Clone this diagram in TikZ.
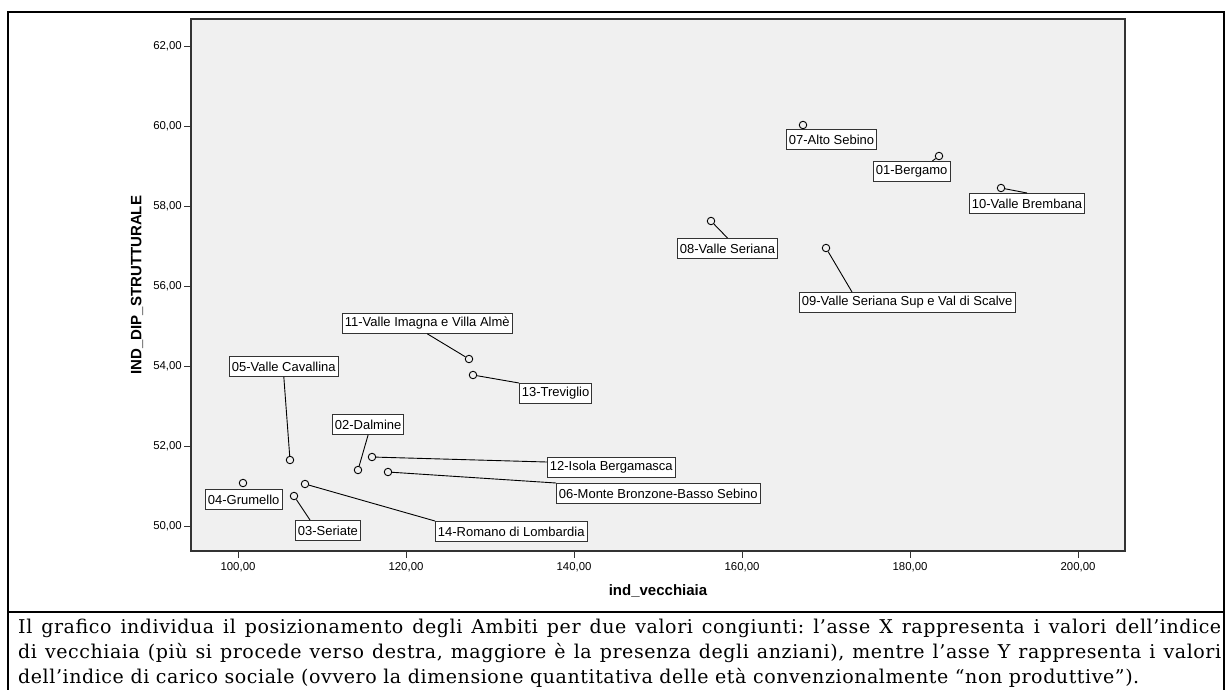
\documentclass[tikz,border=0pt]{standalone}
\usepackage{fontspec}
\setmainfont{Liberation Sans}
\newfontfamily\notefont[LetterSpace=3]{DejaVu Serif}
\definecolor{plotgray}{HTML}{F0F0F0}
\definecolor{axisgray}{HTML}{333333}

\begin{document}
\begin{tikzpicture}[x=1pt,y=-1pt]
\useasboundingbox (0,0) rectangle (1225,689);
\fill[white] (0,0) rectangle (1225,689);

\draw[line width=2pt] (8,695) -- (8,12) -- (1224,12) -- (1224,695);
\draw[line width=2pt] (8,612) -- (1224,612);

\filldraw[fill=plotgray,draw=axisgray,line width=1.3pt] (191,19) rectangle (1125,551);

\begin{scope}[every node/.style={font=\fontsize{11.4}{13}\selectfont,inner sep=1pt}]
\foreach \v [count=\i from 0] in {62,60,...,50} {
    \draw[axisgray,line width=1pt] (184,46+\i*80) -- (191,46+\i*80);
    \node[anchor=east] (ytick\v) at (183,46+\i*80) {\v,00};
}
\foreach \v [count=\i from 0] in {100,120,...,200} {
    \draw[axisgray,line width=1pt] (238+\i*168,551) -- (238+\i*168,558);
    \node (xtick\v) at (238+\i*168,567) {\v,00};
}
\end{scope}

\node[font=\fontsize{15}{17}\selectfont\bfseries] (xtitle) at (658,591) {ind\_vecchiaia};
\node[font=\fontsize{15}{17}\selectfont\bfseries,rotate=90] (ytitle) at (137,285) {IND\_DIP\_STRUTTURALE};

\begin{scope}[every node/.style={circle,draw,inner sep=0pt,minimum size=7.5pt,line width=0.9pt}]
    \node (c01) at (939,156) {};
    \node (c02) at (358,470) {};
    \node (c03) at (294,496) {};
    \node (c04) at (243,483) {};
    \node (c05) at (290,460) {};
    \node (c06) at (388,472) {};
    \node (c07) at (803,125) {};
    \node (c08) at (711,221) {};
    \node (c09) at (826,248) {};
    \node (c10) at (1001,188) {};
    \node (c11) at (469,359) {};
    \node (c12) at (372,457) {};
    \node (c13) at (473,375) {};
    \node (c14) at (305,484) {};
\end{scope}

\begin{scope}[every node/.style={draw=axisgray,fill=white,anchor=north west,line width=0.8pt,
              inner xsep=2.5pt,inner ysep=0pt,minimum height=20pt,font=\fontsize{13}{15}\selectfont}]
    \node (l01) at (873,161) {01-Bergamo};
    \node (l02) at (332,414) {02-Dalmine};
    \node (l03) at (295,520) {03-Seriate};
    \node (l04) at (205,489) {04-Grumello};
    \node (l05) at (229,356) {05-Valle Cavallina};
    \node (l06) at (556,483) {06-Monte Bronzone-Basso Sebino};
    \node (l07) at (786,129) {07-Alto Sebino};
    \node (l08) at (677,238) {08-Valle Seriana};
    \node (l09) at (799,292) {09-Valle Seriana Sup e Val di Scalve};
    \node (l10) at (969,193) {10-Valle Brembana};
    \node (l11) at (342,313) {11-Valle Imagna e Villa Almè};
    \node (l12) at (547,457) {12-Isola Bergamasca};
    \node (l13) at (519,383) {13-Treviglio};
    \node (l14) at (435,521) {14-Romano di Lombardia};
\end{scope}

\begin{scope}[every edge/.style={draw=black,line width=0.9pt}]
    \path [-] (c01) edge ([xshift=-18pt]l01.north east);
    \path [-] (c02) edge (l02.south);
    \path [-] (c03) edge ([xshift=15pt]l03.north west);
    \path [-] (c05) edge (l05.south);
    \path [-] (c06) edge (l06.north west);
    \path [-] (c08) edge (l08.north);
    \path [-] (c09) edge ([xshift=53pt]l09.north west);
    \path [-] (c10) edge ([xshift=58pt]l10.north west);
    \path [-] (c11) edge (l11.south);
    \path [-] (c12) edge ([yshift=-5pt]l12.north west);
    \path [-] (c13) edge (l13.north west);
    \path [-] (c14) edge (l14.north west);
\end{scope}

\node[anchor=north west,inner sep=0pt,text width=1203pt,align=justify,
      font=\notefont\fontsize{19}{25}\selectfont\frenchspacing] (note) at (18,619)
{Il grafico individua il posizionamento degli Ambiti per due valori congiunti: l’asse X rappresenta i valori dell’indice\linebreak
di vecchiaia (più si procede verso destra, maggiore è la presenza degli anziani), mentre l’asse Y rappresenta i valori\linebreak
dell’indice di carico sociale (ovvero la dimensione quantitativa delle età convenzionalmente “non produttive”).};
\end{tikzpicture}
\end{document}
